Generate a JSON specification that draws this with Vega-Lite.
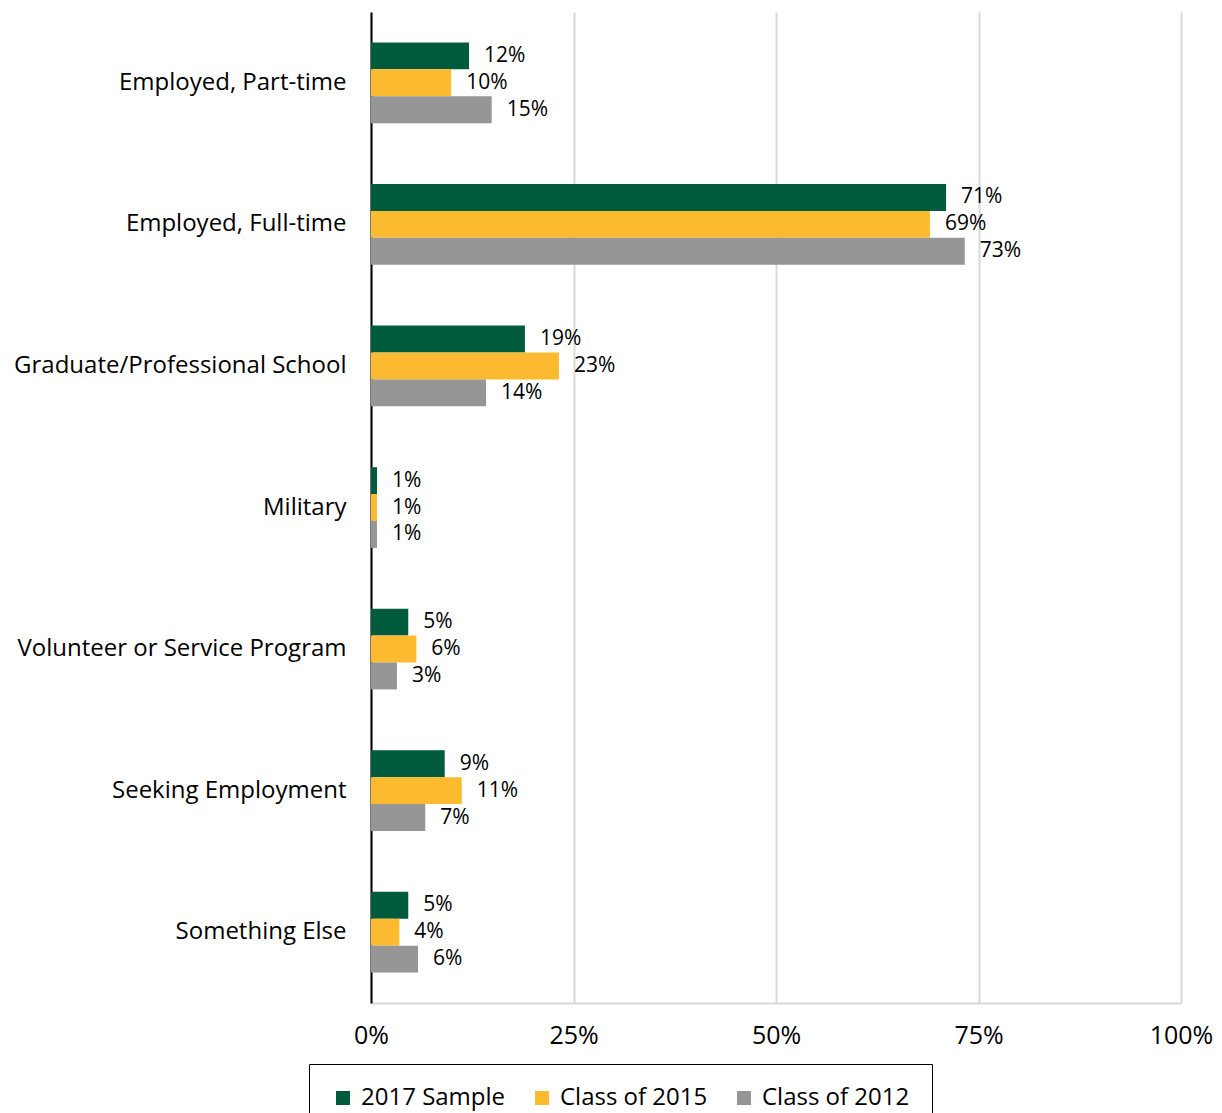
{
  "$schema": "https://vega.github.io/schema/vega-lite/v6.json",
  "width": 810,
  "height": 991,
  "autosize": {"type": "none"},
  "padding": {"left": 371, "top": 12, "right": 41, "bottom": 110},
  "config": {"font": "Open Sans", "view": {"stroke": null}},
  "data": {
    "values": [
      {"category": "Employed, Part-time", "series": "2017 Sample", "value": 0.121},
      {"category": "Employed, Part-time", "series": "Class of 2015", "value": 0.099},
      {"category": "Employed, Part-time", "series": "Class of 2012", "value": 0.149},
      {"category": "Employed, Full-time", "series": "2017 Sample", "value": 0.71},
      {"category": "Employed, Full-time", "series": "Class of 2015", "value": 0.69},
      {"category": "Employed, Full-time", "series": "Class of 2012", "value": 0.733},
      {"category": "Graduate/Professional School", "series": "2017 Sample", "value": 0.19},
      {"category": "Graduate/Professional School", "series": "Class of 2015", "value": 0.232},
      {"category": "Graduate/Professional School", "series": "Class of 2012", "value": 0.142},
      {"category": "Military", "series": "2017 Sample", "value": 0.0074},
      {"category": "Military", "series": "Class of 2015", "value": 0.0074},
      {"category": "Military", "series": "Class of 2012", "value": 0.0074},
      {"category": "Volunteer or Service Program", "series": "2017 Sample", "value": 0.046},
      {"category": "Volunteer or Service Program", "series": "Class of 2015", "value": 0.056},
      {"category": "Volunteer or Service Program", "series": "Class of 2012", "value": 0.032},
      {"category": "Seeking Employment", "series": "2017 Sample", "value": 0.091},
      {"category": "Seeking Employment", "series": "Class of 2015", "value": 0.112},
      {"category": "Seeking Employment", "series": "Class of 2012", "value": 0.067},
      {"category": "Something Else", "series": "2017 Sample", "value": 0.046},
      {"category": "Something Else", "series": "Class of 2015", "value": 0.035},
      {"category": "Something Else", "series": "Class of 2012", "value": 0.058}
    ]
  },
  "encoding": {
    "y": {
      "field": "category",
      "type": "nominal",
      "sort": ["Employed, Part-time", "Employed, Full-time", "Graduate/Professional School", "Military", "Volunteer or Service Program", "Seeking Employment", "Something Else"],
      "scale": {"paddingInner": 0.43, "paddingOuter": 0.215},
      "axis": {"title": null, "labelFontSize": 24, "labelColor": "#000000", "labelPadding": 25, "ticks": false, "domainColor": "#000000", "domainWidth": 2, "labelLimit": 400}
    },
    "x": {
      "field": "value",
      "type": "quantitative",
      "scale": {"domain": [0, 1]},
      "axis": {"title": null, "format": ".0%", "values": [0, 0.25, 0.5, 0.75, 1], "labelFontSize": 25, "labelColor": "#000000", "labelPadding": 20, "labelFlush": false, "labelBound": false, "ticks": false, "domainColor": "#d9d9d9", "domainWidth": 2, "grid": true, "gridColor": "#d9d9d9", "gridWidth": 2}
    },
    "yOffset": {"field": "series", "type": "nominal", "sort": ["2017 Sample", "Class of 2015", "Class of 2012"]}
  },
  "layer": [
    {
      "mark": {"type": "bar"},
      "encoding": {
        "color": {
          "field": "series",
          "type": "nominal",
          "scale": {"domain": ["2017 Sample", "Class of 2015", "Class of 2012"], "range": ["#005A3C", "#FCBA30", "#969696"]},
          "legend": {
            "title": null,
            "orient": "none",
            "direction": "horizontal",
            "legendX": -62,
            "legendY": 1052,
            "symbolType": "square",
            "symbolSize": 196,
            "symbolStrokeWidth": 0,
            "labelFontSize": 24,
            "labelColor": "#000000",
            "labelOffset": 6,
            "columnPadding": 24,
            "padding": 22,
            "strokeColor": "#000000",
            "labelLimit": 300
          }
        }
      }
    },
    {
      "mark": {"type": "text", "align": "left", "baseline": "middle", "dx": 15, "fontSize": 21, "color": "#000000"},
      "encoding": {
        "text": {"field": "value", "type": "quantitative", "format": ".0%"}
      }
    }
  ]
}
